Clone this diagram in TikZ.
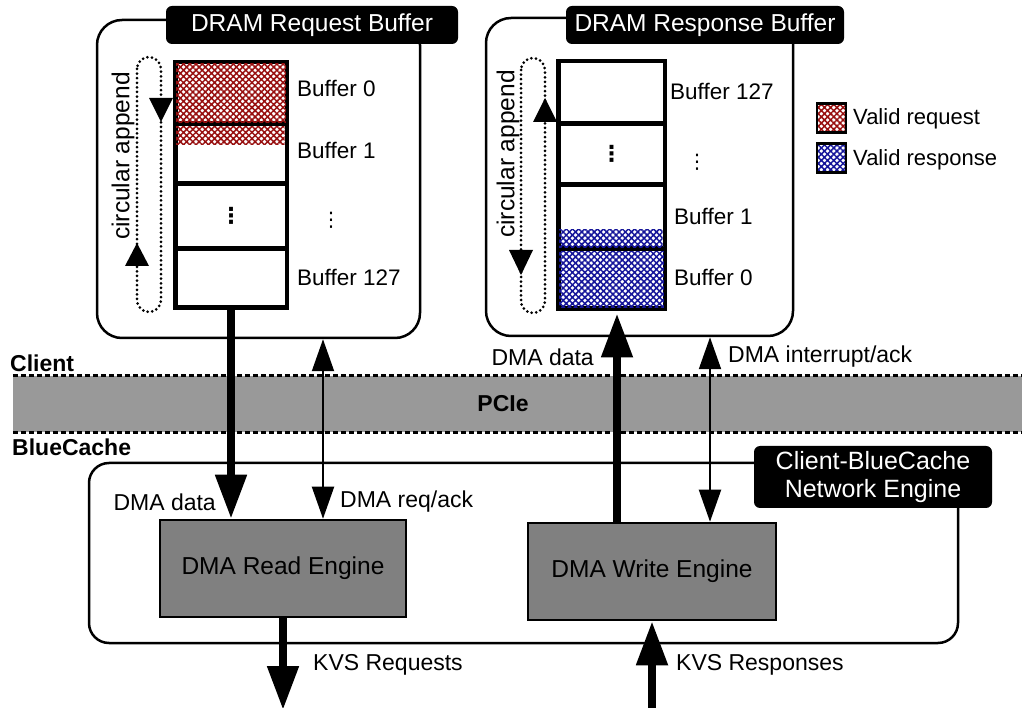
\documentclass[tikz,border=0pt]{standalone}
\usepackage{fontspec}
\setmainfont{Liberation Sans}
\newfontfamily\symfont{DejaVu Sans}
\usetikzlibrary{arrows.meta,patterns.meta}

\definecolor{hatchred}{HTML}{981010}
\definecolor{hatchblue}{HTML}{16169A}
\definecolor{pciegray}{HTML}{999999}
\definecolor{enginegray}{HTML}{808080}

\newcommand\ftitle{\fontsize{24.5}{28}\selectfont}
\newcommand\fbuf{\fontsize{22.5}{26}\selectfont}
\newcommand\flabel{\fontsize{23}{27}\selectfont}
\newcommand\fleg{\fontsize{22}{26}\selectfont}

\begin{document}
\begin{tikzpicture}[x=1pt,y=-1pt,
  panel/.style={draw, fill=white, line width=2.5pt, rounded corners=25pt, inner sep=0pt},
  titlebox/.style={fill=black, text=white, rounded corners=6pt, inner sep=0pt, font=\ftitle},
  cell/.style={draw, line width=3pt, inner sep=0pt},
  engine/.style={draw, fill=enginegray, line width=2.5pt, inner sep=0pt, font=\ftitle},
  redhatch/.style={pattern={Hatch[angle=45,distance=4.4pt,line width=1.5pt]}, pattern color=hatchred},
  bluehatch/.style={pattern={Hatch[angle=45,distance=4.4pt,line width=1.5pt]}, pattern color=hatchblue},
  legbox/.style={draw, line width=2.5pt, minimum size=29pt, inner sep=0pt},
  loopline/.style={line width=3pt, line cap=round, dash pattern=on 0pt off 4.6pt, rounded corners=12pt},
  bigarrow/.style={line width=8pt, -{Triangle[width=30pt,length=44pt]}},
  twoway/.style={line width=2pt, {Triangle[width=22pt,length=32pt]}-{Triangle[width=22pt,length=32pt]}},
  pciedash/.style={line width=3pt, dash pattern=on 5pt off 3pt},
  bufname/.style={anchor=west, font=\fbuf, inner sep=0pt},
  lbl/.style={font=\flabel, inner sep=0pt},
  side/.style={font=\flabel\bfseries, inner sep=0pt, anchor=west},
]
\useasboundingbox (0,0) rectangle (1029,708);

% ---- PCIe band ----
\node[fill=pciegray, minimum width=1009pt, minimum height=56pt, inner sep=0pt] (pcie) at (517.5,404) {};
\draw[pciedash] (pcie.north west) -- (pcie.north east);
\draw[pciedash] (pcie.south west) -- (pcie.south east);
\node[font=\flabel\bfseries, inner sep=0pt] (pcielbl) at (503,404) {PCIe};
\node[side] (client) at (10,363) {Client};
\node[side] (bluecache) at (12,447) {BlueCache};

% ---- request buffer panel ----
\node[panel, minimum width=323pt, minimum height=318pt] (reqpanel) at (258.5,179) {};
\node[titlebox, minimum width=292pt, minimum height=38pt] (reqtitle) at (312,25) {DRAM Request Buffer};

\node[cell, minimum width=110pt, minimum height=60pt] (lc0) at (231,93) {};
\node[cell, minimum width=110pt, minimum height=60pt] (lc1) at (231,153) {};
\node[cell, minimum width=110pt, minimum height=65pt] (lc2) at (231,215.5) {};
\node[cell, minimum width=110pt, minimum height=59pt] (lc3) at (231,277.5) {};
\path[redhatch] (lc0.north west) rectangle (lc0.south east);
\path[redhatch] (lc1.north west) rectangle ++(110,23);
\draw[line width=3pt] (lc0.north west) rectangle (lc3.south east);
\draw[line width=3pt] (lc0.south west) -- (lc0.south east);
\draw[line width=3pt] (lc1.south west) -- (lc1.south east);
\draw[line width=3pt] (lc2.south west) -- (lc2.south east);
\node[font=\symfont\bfseries\fontsize{22}{24}\selectfont, inner sep=0pt] (lcdots) at (lc2.center) {⋮};

\node[bufname] (lb0) at (297,88) {Buffer 0};
\node[bufname] (lb1) at (297,150) {Buffer 1};
\node[font=\symfont\fontsize{20}{24}\selectfont, inner sep=0pt] (lbdots) at (331,220) {⋮};
\node[bufname] (lb3) at (297,277) {Buffer 127};

\draw[loopline] (137,57) rectangle (161,312);
\fill (149,98) -- (173,98) -- (161,122) -- cycle;
\fill (125,266) -- (149,266) -- (137,243) -- cycle;
\node[font=\ftitle, rotate=90, inner sep=0pt] (lcirc) at (123,156) {circular append};

% ---- response buffer panel ----
\node[panel, minimum width=307pt, minimum height=318pt] (respanel) at (639.5,177) {};
\node[titlebox, minimum width=278pt, minimum height=38pt] (restitle) at (705,25) {DRAM Response Buffer};

\node[cell, minimum width=105pt, minimum height=61pt] (rc3) at (611.5,92.5) {};
\node[cell, minimum width=105pt, minimum height=61pt] (rc2) at (611.5,153.5) {};
\node[cell, minimum width=105pt, minimum height=64pt] (rc1) at (611.5,216) {};
\node[cell, minimum width=105pt, minimum height=60pt] (rc0) at (611.5,278) {};
\path[bluehatch] (rc0.north west) rectangle (rc0.south east);
\path[bluehatch] (rc1.south west) rectangle ++(105,-20);
\draw[line width=3pt] (rc3.north west) rectangle (rc0.south east);
\draw[line width=3pt] (rc3.south west) -- (rc3.south east);
\draw[line width=3pt] (rc2.south west) -- (rc2.south east);
\draw[line width=3pt] (rc1.south west) -- (rc1.south east);
\node[font=\symfont\bfseries\fontsize{22}{24}\selectfont, inner sep=0pt] (rcdots) at (rc2.center) {⋮};

\node[bufname] (rb3) at (670,91) {Buffer 127};
\node[font=\symfont\fontsize{20}{24}\selectfont, inner sep=0pt] (rbdots) at (697,162) {⋮};
\node[bufname] (rb1) at (674,216) {Buffer 1};
\node[bufname] (rb0) at (674,277) {Buffer 0};

\draw[loopline] (521,58) rectangle (545,313);
\fill (533,122) -- (557,122) -- (545,98) -- cycle;
\fill (509,250) -- (533,250) -- (521,275) -- cycle;
\node[font=\ftitle, rotate=90, inner sep=0pt] (rcirc) at (508,154) {circular append};

% ---- legend ----
\node[legbox, redhatch] (legreq) at (831.5,118) {};
\node[legbox, bluehatch] (legresp) at (831.5,158) {};
\node[anchor=west, font=\fleg, inner sep=0pt] (legreqt) at (853,119) {Valid request};
\node[anchor=west, font=\fleg, inner sep=0pt] (legrespt) at (853,160) {Valid response};

% ---- network engine ----
\node[panel, rounded corners=20pt, minimum width=869pt, minimum height=180pt] (netpanel) at (523.5,553) {};
\node[titlebox, minimum width=238pt, minimum height=62pt, align=center, font=\fontsize{25}{28}\selectfont] (nettitle) at (873,477) {Client-BlueCache\\Network Engine};

\node[engine, minimum width=246pt, minimum height=97pt] (rdeng) at (283,568.5) {DMA Read Engine};
\node[engine, minimum width=248pt, minimum height=97pt] (wreng) at (652,571.5) {DMA Write Engine};

% ---- connectors ----
\coordinate (reqackx) at (323,0);
\coordinate (wrdatax) at (617,0);
\coordinate (intx) at (710,0);
\coordinate (bottomedge) at (0,710);

\draw[bigarrow] (lc3.south) -- (lc3.south |- rdeng.north);
\draw[twoway] (reqpanel.south -| reqackx) -- (rdeng.north -| reqackx);
\draw[bigarrow, shorten >=4pt] (wreng.north -| wrdatax) -- (rc0.south -| wrdatax);
\draw[twoway] (respanel.south -| intx) -- (wreng.north -| intx);
\draw[bigarrow] (rdeng.south) -- (rdeng.south |- bottomedge);
\draw[bigarrow] (wreng.south |- bottomedge) -- (wreng.south);

\node[lbl, anchor=east] (rddata) at (216,502) {DMA data};
\node[lbl, anchor=west] (rdack) at (340,502) {DMA req/ack};
\node[lbl, anchor=east] (wrdata) at (594,357) {DMA data};
\node[lbl, anchor=west] (wrint) at (728,357) {DMA interrupt/ack};
\node[lbl, anchor=west] (kvsreq) at (313,665) {KVS Requests};
\node[lbl, anchor=west] (kvsresp) at (676,665) {KVS Responses};
\end{tikzpicture}
\end{document}
